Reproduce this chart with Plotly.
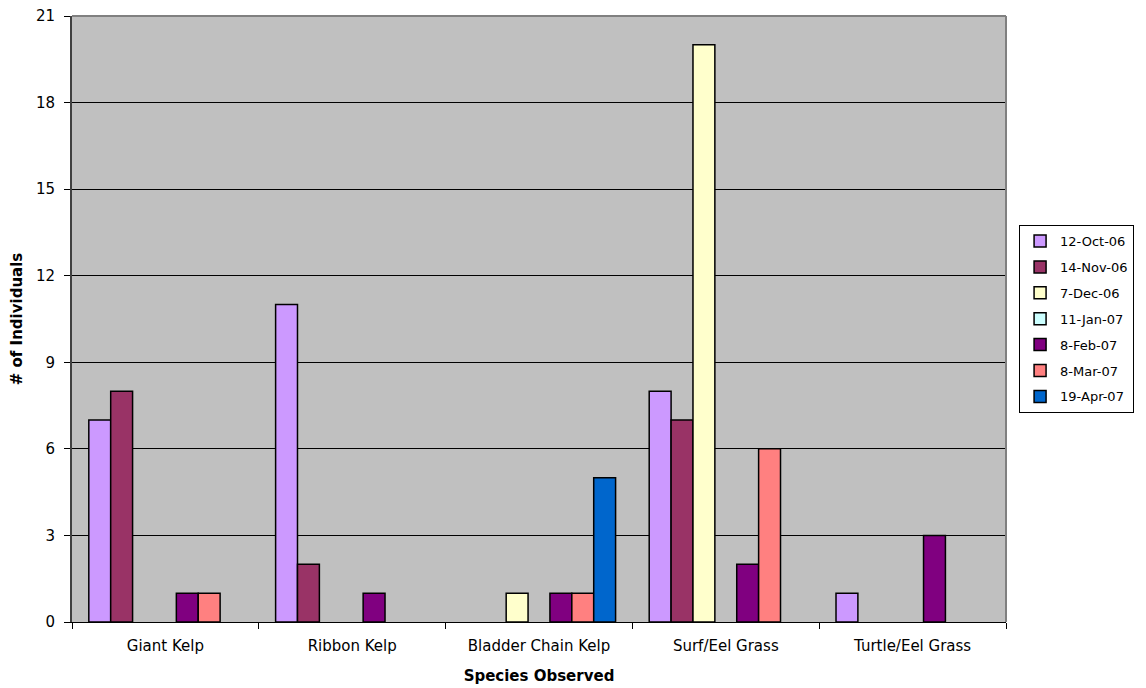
import plotly.graph_objects as go

species = ["Giant Kelp", "Ribbon Kelp", "Bladder Chain Kelp", "Surf/Eel Grass", "Turtle/Eel Grass"]
dates = ["12-Oct-06", "14-Nov-06", "7-Dec-06", "11-Jan-07", "8-Feb-07", "8-Mar-07", "19-Apr-07"]

oct_12 = [7, 11, 0, 8, 1]
nov_14 = [8, 2, 0, 7, 0]
dec_07 = [0, 0, 1, 20, 0]
jan_11 = [0, 0, 0, 0, 0]
feb_08 = [1, 1, 1, 2, 3]
mar_08 = [1, 0, 1, 6, 0]
apr_19 = [0, 0, 5, 0, 0]

series = [oct_12, nov_14, dec_07, jan_11, feb_08, mar_08, apr_19]
colors = ["#CC99FF", "#993366", "#FFFFCC", "#CCFFFF", "#800080", "#FF8080", "#0066CC"]

y_ticks = [0, 3, 6, 9, 12, 15, 18, 21]

fig = go.Figure()
for name, vals, col in zip(dates, series, colors):
    # a zero count draws no bar (and no outline sitting on the axis)
    shown = [v if v else None for v in vals]
    fig.add_trace(go.Bar(
        x=species, y=shown, name=name, legendgroup=name,
        marker=dict(color=col, line=dict(color="black", width=1.5)),
    ))

font = "Verdana, DejaVu Sans, sans-serif"
fig.update_layout(
    width=1146, height=688,
    margin=dict(l=72, r=136, t=16, b=66),
    paper_bgcolor="white",
    plot_bgcolor="#C0C0C0",
    barmode="group",
    bargap=0.18,
    bargroupgap=0,
    font=dict(family=font, size=15, color="black"),
    legend=dict(
        x=1.014, y=0.655, xanchor="left", yanchor="top",
        bordercolor="black", borderwidth=1,
        font=dict(size=13), tracegroupgap=6,
        itemwidth=30,
    ),
    xaxis=dict(
        title=dict(text="<b>Species Observed</b>", font=dict(size=15), standoff=16),
        tickson="boundaries", ticks="outside", ticklen=6, tickcolor="black",
        ticklabelstandoff=10,
        showline=True, linecolor="black", linewidth=1,
        showgrid=False, automargin=False,
    ),
    yaxis=dict(
        title=dict(text="<b># of Individuals</b>", font=dict(size=15), standoff=10),
        range=[0, 21], tickvals=y_ticks,
        ticks="outside", ticklen=6, tickcolor="black",
        ticklabelstandoff=6,
        showline=True, linecolor="#404040", linewidth=2,
        gridcolor="black", gridwidth=1,
        zeroline=False, automargin=False,
    ),
    shapes=[
        # gray frame on the top and right of the plot area
        dict(type="line", xref="x domain", yref="y domain", x0=0, x1=1, y0=1, y1=1,
             line=dict(color="#808080", width=2)),
        dict(type="line", xref="x domain", yref="y domain", x0=1, x1=1, y0=0, y1=1,
             line=dict(color="#808080", width=2)),
    ],
)

fig.write_html("out.html")
